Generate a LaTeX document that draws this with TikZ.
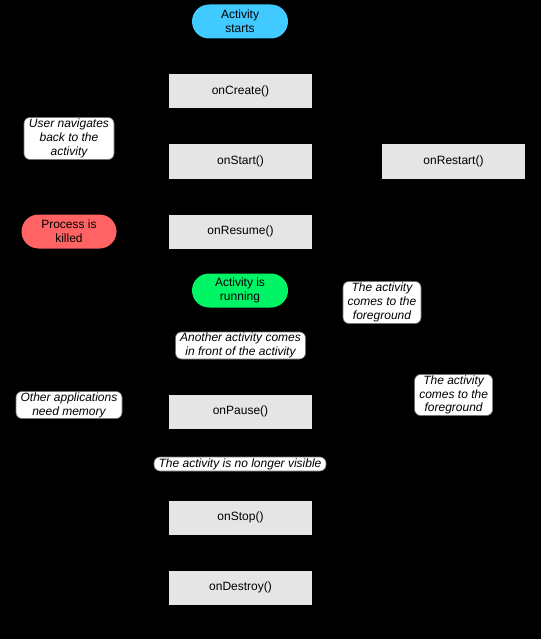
\documentclass[tikz,border=0pt]{standalone}
\usepackage{fontspec}
\setmainfont{Liberation Sans}
\usetikzlibrary{arrows.meta}
\pgfdeclarelayer{bg}
\pgfsetlayers{bg,main}
\definecolor{startblue}{HTML}{40CAFF}
\definecolor{rungreen}{HTML}{00F566}
\definecolor{killred}{HTML}{FF6363}
\definecolor{boxgray}{HTML}{E5E5E5}
\tikzset{
  every node/.style={font=\fontsize{12}{13.8}\selectfont, align=center, inner sep=0pt},
  method/.style={fill=boxgray, minimum width=143pt, minimum height=34pt},
  pill/.style={rounded corners=17pt, minimum width=96pt, minimum height=34pt},
  note/.style={fill=white, draw=black!55, line width=0.6pt, rounded corners=6pt, font=\fontsize{12}{13.8}\selectfont\itshape},
  flow/.style={draw=black, line width=1pt, -{Stealth[length=6pt]}}
}
\begin{document}
\begin{tikzpicture}[x=1pt, y=-1pt]
\fill[black] (0,0) rectangle (541,639);
\useasboundingbox (0,0) rectangle (541,639);

\node[pill, fill=startblue] (start) at (240,21.5) {Activity\\starts};
\node[method] (create) at (240.5,91.5) {onCreate()};
\node[method] (startm) at (240.5,161.5) {onStart()};
\node[method] (restart) at (453.5,161.5) {onRestart()};
\node[method] (resume) at (240.5,231.5) {onResume()};
\node[pill, fill=killred, minimum width=95pt] (killed) at (69,231.5) {Process is\\killed};
\node[pill, fill=rungreen] (running) at (240,290.5) {Activity is\\running};
\node[method] (pause) at (240.5,411.5) {onPause()};
\node[method] (stop) at (240.5,517.5) {onStop()};
\node[method] (destroy) at (240.5,587.5) {onDestroy()};

\node[note, minimum width=90pt, minimum height=42pt] (navback) at (69,138.5) {User navigates\\back to the\\activity};
\node[note, minimum width=78pt, minimum height=42pt] (fg1) at (382,302.5) {The activity\\comes to the\\foreground};
\node[note, minimum width=130pt, minimum height=27pt] (another) at (240.5,345.5) {Another activity comes\\in front of the activity};
\node[note, minimum width=78pt, minimum height=41pt] (fg2) at (453.6,395) {The activity\\comes to the\\foreground};
\node[note, minimum width=106pt, minimum height=27pt] (othermem) at (69,405) {Other applications\\need memory};
\node[note, minimum width=172pt, minimum height=14pt] (novisible) at (240,464) {The activity is no longer visible};

\coordinate (pkR) at (382,411.5);
\coordinate (stR) at (453.5,517.5);
\coordinate (pkL) at (69,411.5);
\coordinate (stL) at (69,517.5);
\coordinate (crL) at (69,91.5);

\begin{pgfonlayer}{bg}
\draw[flow] (start) -- (create);
\draw[flow] (create) -- (startm);
\draw[flow] (startm) -- (resume);
\draw[flow] (resume) -- (running);
\draw[flow] (running) -- (pause);
\draw[flow] (pause) -- (stop);
\draw[flow] (stop) -- (destroy);
\draw[flow] (pause.east) -- (pkR) -- (resume.east -| pkR) -- (resume.east);
\draw[flow] (stop.east) -- (stR) -- (restart.south);
\draw[flow] (restart) -- (startm);
\draw[flow] (pause.west) -- (pkL);
\draw[flow] (stop.west) -- (stL) -- (killed.south);
\draw[flow] (killed.north) -- (crL) -- (create.west);
\end{pgfonlayer}
\end{tikzpicture}
\end{document}
